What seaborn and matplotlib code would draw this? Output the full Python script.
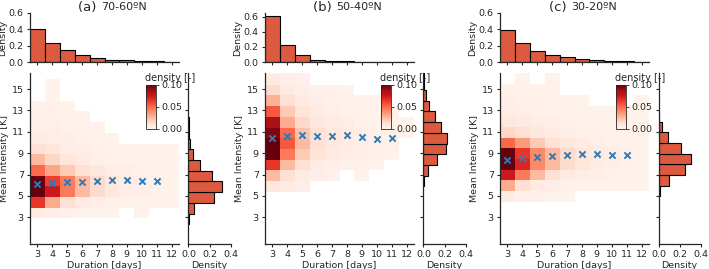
import numpy as np
import pandas as pd
import matplotlib
matplotlib.use("Agg")
import matplotlib.pyplot as plt
import seaborn as sns

durations = [3, 4, 5, 6, 7, 8, 9, 10, 11, 12]
mean_days = [3, 4, 5, 6, 7, 8, 9, 10, 11]
panel_tags = ["(a)", "(b)", "(c)"]
regions = ["70-60ºN", "50-40ºN", "30-20ºN"]

# duration marginal density
dur_a = [0.41, 0.236, 0.148, 0.084, 0.048, 0.028, 0.02, 0.012, 0.008, 0.004]
dur_b = [0.61, 0.228, 0.093, 0.03, 0.013, 0.008, 0.005, 0.003, 0.002, 0.001]
dur_c = [0.396, 0.236, 0.14, 0.088, 0.056, 0.036, 0.02, 0.016, 0.008, 0.004]

# mean intensity for each duration (blue crosses)
mean_a = [6.1, 6.2, 6.3, 6.3, 6.4, 6.5, 6.5, 6.4, 6.35]
mean_b = [10.42, 10.63, 10.68, 10.65, 10.6, 10.68, 10.55, 10.32, 10.46]
mean_c = [8.37, 8.53, 8.64, 8.77, 8.84, 8.88, 8.88, 8.84, 8.82]

# joint density: one row per duration, 1 K intensity bins starting at heat_lo_*
heat_lo_a = 2.9
heat_a = [
    [0.006, 0.065, 0.11, 0.11, 0.05, 0.025, 0.012, 0.006, 0.004, 0.003, 0.003, 0, 0],
    [0.004, 0.03, 0.075, 0.062, 0.032, 0.016, 0.009, 0.005, 0.004, 0.003, 0.003, 0.002, 0.002],
    [0.003, 0.012, 0.045, 0.045, 0.02, 0.009, 0.005, 0.004, 0.003, 0.002, 0.002, 0, 0],
    [0.002, 0.006, 0.025, 0.025, 0.012, 0.006, 0.004, 0.003, 0.002, 0.002, 0, 0, 0],
    [0.002, 0.004, 0.014, 0.014, 0.008, 0.004, 0.003, 0.002, 0.002, 0, 0, 0, 0],
    [0.002, 0.003, 0.008, 0.008, 0.005, 0.003, 0.002, 0.002, 0, 0, 0, 0, 0],
    [0, 0.002, 0.005, 0.005, 0.004, 0.002, 0.002, 0, 0, 0, 0, 0, 0],
    [0.002, 0.002, 0.004, 0.004, 0.003, 0.002, 0.002, 0, 0, 0, 0, 0, 0],
    [0, 0.002, 0.003, 0.003, 0.002, 0.002, 0.002, 0, 0, 0, 0, 0, 0],
    [0, 0.002, 0.002, 0.002, 0.002, 0.002, 0.002, 0, 0, 0, 0, 0, 0],
]
heat_lo_b = 5.4
heat_b = [
    [0.008, 0.025, 0.065, 0.11, 0.11, 0.095, 0.085, 0.055, 0.028, 0.014, 0.007, 0.003],
    [0.006, 0.012, 0.025, 0.045, 0.055, 0.05, 0.03, 0.02, 0.012, 0.007, 0.004, 0.003],
    [0.004, 0.006, 0.012, 0.02, 0.025, 0.022, 0.015, 0.01, 0.006, 0.004, 0.003, 0.002],
    [0, 0.004, 0.006, 0.01, 0.012, 0.012, 0.008, 0.006, 0.004, 0.003, 0, 0],
    [0, 0.003, 0.004, 0.007, 0.008, 0.008, 0.006, 0.004, 0.003, 0.003, 0, 0],
    [0, 0, 0.003, 0.005, 0.006, 0.006, 0.005, 0.003, 0.002, 0.002, 0, 0],
    [0, 0.002, 0.003, 0.004, 0.004, 0.004, 0.003, 0.002, 0.002, 0, 0, 0],
    [0, 0, 0.002, 0.003, 0.003, 0.003, 0.002, 0.002, 0.002, 0, 0, 0],
    [0, 0, 0, 0.002, 0.003, 0.003, 0.002, 0.002, 0, 0, 0, 0],
    [0, 0, 0, 0, 0, 0.002, 0.002, 0, 0, 0, 0, 0],
]
heat_lo_c = 4.45
heat_c = [
    [0.006, 0.03, 0.075, 0.11, 0.11, 0.05, 0.015, 0.008, 0.005, 0.004, 0.003, 0, 0],
    [0.003, 0.012, 0.045, 0.07, 0.065, 0.035, 0.012, 0.007, 0.004, 0.003, 0.002, 0.002, 0.002],
    [0.003, 0.006, 0.025, 0.04, 0.04, 0.02, 0.008, 0.005, 0.003, 0.003, 0.002, 0, 0],
    [0.002, 0.004, 0.012, 0.025, 0.025, 0.012, 0.006, 0.004, 0.003, 0.002, 0.002, 0.002, 0.002],
    [0.002, 0.003, 0.007, 0.014, 0.014, 0.008, 0.004, 0.003, 0.002, 0.002, 0, 0, 0],
    [0, 0.002, 0.005, 0.009, 0.009, 0.006, 0.003, 0.002, 0.002, 0.002, 0, 0, 0],
    [0, 0.002, 0.004, 0.006, 0.006, 0.004, 0.003, 0.002, 0.002, 0, 0, 0, 0],
    [0, 0.002, 0.003, 0.004, 0.004, 0.003, 0.002, 0.002, 0.002, 0, 0, 0, 0],
    [0, 0.002, 0.002, 0.003, 0.003, 0.002, 0.002, 0.002, 0.002, 0, 0, 0, 0],
    [0, 0.002, 0.002, 0.002, 0.002, 0.002, 0.002, 0.002, 0.002, 0.002, 0, 0, 0],
]

# intensity marginal density, 1 K bins starting at int_lo_*
int_lo_a = 2.35
int_a = [0.002, 0.05, 0.245, 0.32, 0.225, 0.105, 0.04, 0.012, 0.005, 0.003]
int_lo_b = 5.9
int_b = [0.005, 0.045, 0.13, 0.21, 0.22, 0.17, 0.105, 0.055, 0.02, 0.008, 0.004]
int_lo_c = 4.95
int_c = [0.01, 0.1, 0.255, 0.31, 0.21, 0.095, 0.03, 0.005]

panels = [
    (dur_a, mean_a, heat_lo_a, heat_a, int_lo_a, int_a, 0.6),
    (dur_b, mean_b, heat_lo_b, heat_b, int_lo_b, int_b, 0.65),
    (dur_c, mean_c, heat_lo_c, heat_c, int_lo_c, int_c, 0.6),
]

sns.set_style("ticks")
plt.rcParams["font.family"] = ["DejaVu Sans"]
plt.rcParams["font.size"] = 6.8
plt.rcParams["xtick.labelsize"] = 6.8
plt.rcParams["ytick.labelsize"] = 6.8
plt.rcParams["axes.labelsize"] = 6.8
plt.rcParams["xtick.major.size"] = 2.5
plt.rcParams["ytick.major.size"] = 2.5
plt.rcParams["xtick.major.pad"] = 2
plt.rcParams["ytick.major.pad"] = 2
plt.rcParams["axes.linewidth"] = 0.9

W, H = 709, 269
fig = plt.figure(figsize=(W / 100, H / 100), dpi=100)

def px_axes(left, top, width, height):
    return fig.add_axes([left / W, 1 - (top + height) / H, width / W, height / H])

bar_color = "#dc5a40"
x_edges = [2.5 + k for k in range(11)]

for i, (dur, mean, hlo, heat, ilo, dint, top_ylim) in enumerate(panels):
    off = 235 * i
    ax_right = px_axes(188.5 + off, 73, 42, 171)
    ax = px_axes(30 + off, 73, 149, 171)
    ax_top = px_axes(30 + off, 13, 149, 49)
    ax.patch.set_alpha(0)

    # joint density heatmap
    rows = []
    for d, col in zip(durations, heat):
        for k, v in enumerate(col):
            rows.append({"dur": d, "inten": hlo + k + 0.5, "dens": v})
    df = pd.DataFrame(rows)
    y_edges = [hlo + k for k in range(len(heat[0]) + 1)]
    cax = ax.inset_axes([0.78, 0.675, 0.067, 0.255])
    sns.histplot(data=df, x="dur", y="inten", weights="dens", bins=[x_edges, y_edges],
                 cmap="Reds", vmin=0, vmax=0.1, ax=ax, cbar=True, cbar_ax=cax,
                 cbar_kws={"ticks": [0, 0.05, 0.1], "format": "%.2f"})
    cax.tick_params(labelsize=6.8, length=2, width=0.6, pad=1.5)
    for s in cax.spines.values():
        s.set_linewidth(0.6)
    cax.set_title("density [-]", fontsize=7, loc="left", pad=3, x=-0.1)

    sns.scatterplot(x=mean_days, y=mean, marker="x", color="#2b7bba", s=20,
                    linewidth=1.4, ax=ax, zorder=5)
    ax.set_xlim(2.5, 12.5)
    ax.set_ylim(0.5, 16.5)
    ax.set_xticks(durations)
    ax.set_yticks([3, 5, 7, 9, 11, 13, 15])
    ax.set_xlabel("Duration [days]", labelpad=1)
    ax.set_ylabel("Mean Intensity [K]", labelpad=2)
    sns.despine(ax=ax)

    # duration marginal
    df_top = pd.DataFrame({"dur": durations, "dens": dur})
    sns.histplot(data=df_top, x="dur", weights="dens", bins=x_edges, color=bar_color,
                 alpha=1, edgecolor="black", linewidth=0.8, ax=ax_top)
    ax_top.set_xlim(2.5, 12.5)
    ax_top.set_ylim(0, top_ylim)
    ax_top.set_xticks(durations)
    ax_top.set_xticklabels([])
    ax_top.set_yticks([0, 0.2, 0.4, 0.6])
    ax_top.set_xlabel("")
    ax_top.set_ylabel("Density", labelpad=1.5)
    sns.despine(ax=ax_top)
    ax_top.text(0.475, 1.12, panel_tags[i] + " ", transform=ax_top.transAxes,
                ha="right", va="center", fontsize=9.5)
    ax_top.text(0.475, 1.12, regions[i], transform=ax_top.transAxes,
                ha="left", va="center", fontsize=8)

    # intensity marginal
    df_right = pd.DataFrame({"inten": [ilo + k + 0.5 for k in range(len(dint))],
                             "dens": dint})
    int_edges = [ilo + k for k in range(len(dint) + 1)]
    sns.histplot(data=df_right, y="inten", weights="dens", bins=int_edges,
                 color=bar_color, alpha=1, edgecolor="black", linewidth=0.8, ax=ax_right)
    ax_right.set_ylim(0.5, 16.5)
    ax_right.set_xlim(0, 0.4)
    ax_right.set_yticks([3, 5, 7, 9, 11, 13, 15])
    ax_right.set_yticklabels([])
    ax_right.set_xticks([0, 0.2, 0.4])
    ax_right.set_xticklabels(["0.0", "0.2", "0.4"])
    ax_right.set_ylabel("")
    ax_right.set_xlabel("Density", labelpad=1)
    sns.despine(ax=ax_right)

fig.savefig("out.png", dpi=100)
